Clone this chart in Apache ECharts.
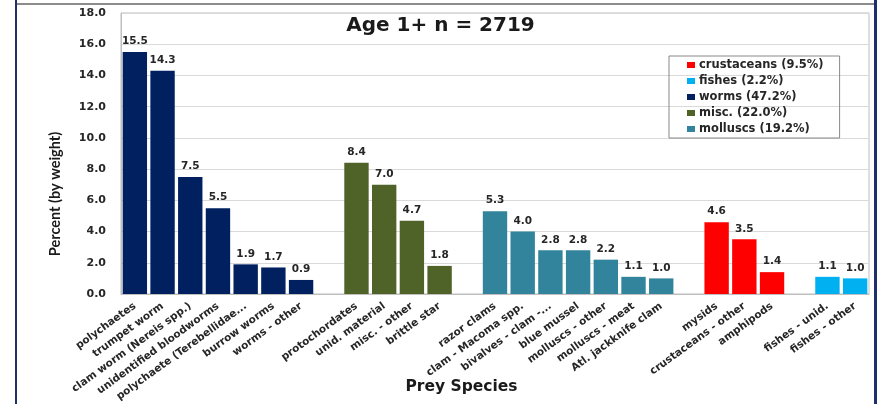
<!DOCTYPE html>
<html><head><meta charset="utf-8">
<script src="https://cdn.jsdelivr.net/npm/echarts@6/dist/echarts.min.js"></script>
<style>html,body{margin:0;padding:0;background:#fff}#c{width:881px;height:404px}</style>
</head><body><div id="c"></div>
<script>
var categories = ["polychaetes","trumpet worm","clam worm (Nereis spp.)","unidentified bloodworms","polychaete (Terebellidae...","burrow worms","worms - other","",
"protochordates","unid. material","misc. - other","brittle star"," ",
"razor clams","clam - Macoma spp.","bivalves - clam -...","blue mussel","molluscs - other","molluscs - meat","Atl. jackknife clam","  ",
"mysids","crustaceans - other","amphipods","   ",
"fishes - unid.","fishes - other"];
var worms       = [15.5,14.3,7.5,5.5,1.9,1.7,0.9,null, null,null,null,null,null, null,null,null,null,null,null,null,null, null,null,null,null, null,null];
var misc        = [null,null,null,null,null,null,null,null, 8.4,7.0,4.7,1.8,null, null,null,null,null,null,null,null,null, null,null,null,null, null,null];
var molluscs    = [null,null,null,null,null,null,null,null, null,null,null,null,null, 5.3,4.0,2.8,2.8,2.2,1.1,1.0,null, null,null,null,null, null,null];
var crustaceans = [null,null,null,null,null,null,null,null, null,null,null,null,null, null,null,null,null,null,null,null,null, 4.6,3.5,1.4,null, null,null];
var fishes      = [null,null,null,null,null,null,null,null, null,null,null,null,null, null,null,null,null,null,null,null,null, null,null,null,null, 1.1,1.0];
var seriesNames = ["crustaceans (9.5%)","fishes (2.2%)","worms (47.2%)","misc. (22.0%)","molluscs (19.2%)"];
var seriesData  = [crustaceans, fishes, worms, misc, molluscs];
var seriesColors = ["#ff0000","#00b0f0","#002060","#4f6228","#31849b"];
var yTicks = {min:0, max:18, interval:2};
var titleText = "Age 1+ n = 2719";
var yName = "Percent (by weight)";
var xName = "Prey Species";

var FONT = "DejaVu Sans";
var chart = echarts.init(document.getElementById('c'));
var series = seriesNames.map(function(n,i){
  return {
    name:n, type:'bar', stack:'all', data:seriesData[i],
    barCategoryGap:'12%',
    itemStyle:{color:seriesColors[i]},
    label:{show:true, position:'top', distance:5, fontFamily:FONT, fontWeight:'bold', fontSize:10.5, color:'#262626',
      formatter:function(p){return p.value==null?'':Number(p.value).toFixed(1);}}
  };
});
chart.setOption({
  animation:false,
  textStyle:{fontFamily:FONT},
  title:{text:titleText, left:'center', top:16, padding:[0,0,0,17],
    textStyle:{fontFamily:FONT, fontWeight:'bold', fontSize:20, color:'#1a1a1a'}},
  legend:{orient:'vertical', left:669, top:56, width:136,
    padding:[2,16,2,18], itemGap:2, itemWidth:8, itemHeight:6, icon:'rect',
    borderColor:'#888', borderWidth:1,
    textStyle:{fontFamily:FONT, fontWeight:'bold', fontSize:11.5, lineHeight:14, color:'#262626', padding:[0,0,0,-1]},
    data:seriesNames},
  grid:{left:121, right:12, top:13, bottom:110, outerBoundsMode:'none', containLabel:false,
    show:true, borderColor:'#bfbfbf', borderWidth:1},
  xAxis:{type:'category', data:categories,
    axisTick:{show:false}, axisLine:{lineStyle:{color:'#bfbfbf'}},
    axisLabel:{interval:0, rotate:36, margin:11, fontFamily:FONT, fontWeight:'bold', fontSize:10.5, color:'#262626'},
    name:xName, nameLocation:'middle', nameGap:85, nameMoveOverlap:false,
    nameTextStyle:{fontFamily:FONT, fontWeight:'bold', fontSize:15.5, color:'#1a1a1a', padding:[0,67,0,0]}},
  yAxis:{type:'value', min:yTicks.min, max:yTicks.max, interval:yTicks.interval,
    axisLine:{show:true, lineStyle:{color:'#bfbfbf'}},
    splitLine:{lineStyle:{color:'#d9d9d9'}},
    axisLabel:{margin:15, fontFamily:FONT, fontWeight:'bold', fontSize:11, color:'#262626',
      formatter:function(v){return v.toFixed(1);}},
    name:yName, nameLocation:'middle', nameGap:58, nameMoveOverlap:false,
    nameTextStyle:{fontFamily:'Lato', fontWeight:'bold', fontSize:14.5, color:'#1a1a1a', padding:[0,81,0,0]}},
  graphic:[
    {type:'rect', shape:{x:15, y:3, width:861, height:2}, style:{fill:'#8c8c8c'}, silent:true},
    {type:'rect', shape:{x:15, y:0, width:2, height:404}, style:{fill:'#1f2f6e'}, silent:true},
    {type:'rect', shape:{x:874, y:0, width:3, height:404}, style:{fill:'#1f2f6e'}, silent:true}
  ],
  series:series
});
</script></body></html>
